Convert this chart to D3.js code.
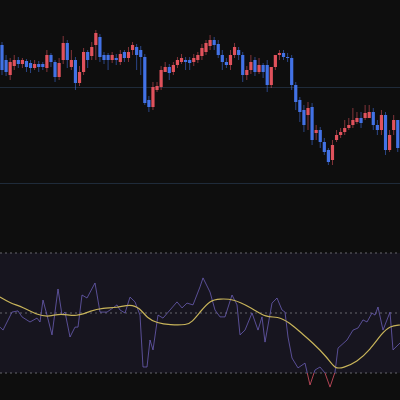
<!DOCTYPE html><html><head><meta charset="utf-8">
<script src="https://cdn.jsdelivr.net/npm/d3@7"></script>
<style>html,body{margin:0;background:#0e0e0e;}</style></head><body><svg id="c" width="400" height="400"></svg>
<script>
const opens  = [155,140,125,134,140,136,139,137,132,136,136,132,145,138,123,140,157,133,140,117,128,148,144,155,163,145,145,140,142,138,148,142,150,153,150,143,100,93,110,113,128,133,128,135,138,140,140,138,140,144,148,154,160,156,145,138,135,145,150,145,125,130,140,128,135,135,115,133,145,147,143,142,115,100,90,85,93,67,70,58,50,40,60,65,68,72,75,78,82,82,82,88,75,70,85,50,70,80];
const closes = [130,128,138,140,136,140,133,132,136,133,133,145,138,123,137,157,140,140,117,128,148,140,153,167,143,140,140,145,140,146,142,148,155,145,143,97,93,113,114,130,133,127,135,140,142,138,137,142,145,152,157,160,155,145,138,135,145,153,145,125,130,138,128,135,128,115,133,145,147,143,142,115,98,88,75,92,60,70,58,48,38,55,65,68,72,75,80,82,77,87,88,75,70,85,50,65,80,52];
const highs  = [158,145,142,145,143,142,141,140,140,139,138,150,147,140,142,164,160,150,143,134,152,150,158,170,166,148,147,148,146,150,150,153,158,156,154,146,104,118,118,134,138,136,138,143,146,143,143,146,148,156,160,165,163,160,150,142,150,157,153,148,134,145,143,142,137,140,120,140,150,150,147,145,118,103,95,98,97,75,73,62,52,60,70,72,80,82,92,88,88,95,95,92,80,90,88,70,85,72];
const lows   = [125,124,120,130,132,132,128,127,130,128,130,128,133,118,120,136,132,130,110,114,125,132,140,140,138,136,130,137,135,135,138,138,145,130,125,95,88,90,108,110,128,120,125,132,136,130,130,134,137,140,145,150,150,142,130,132,130,142,140,118,120,126,124,126,122,108,112,130,140,140,138,110,90,78,68,70,55,60,52,45,35,35,58,62,65,70,72,76,72,80,82,70,65,65,45,48,65,48];
const rsiTime = [0,3,12,18,22,30,37,40,43,47,52,58,62,65,70,75,78,82,87,95,100,107,113,117,120,125,130,135,140,143,147,150,153,158,163,170,177,182,187,193,200,203,210,215,220,225,232,237,240,245,252,258,262,265,272,277,282,285,288,292,298,305,310,315,320,325,330,335,338,347,353,358,363,367,372,375,378,383,390,393,400];
const rsiVal  = [45.3,44.3,50.3,50.7,48.7,47,48.3,47,54.3,49.3,42.7,58,49.3,50.3,42,45.3,45.3,56,55,60,50.3,50.3,51.7,52.7,51,50,55.3,53.7,49.3,32,32,41,37.7,49.3,48.3,51,53.7,51.7,53.3,52.7,58.7,61.7,57,51,48.7,48.7,56,52.7,42.7,44.3,50,44.3,48.7,40.3,53.3,55,51,50.3,42,35,31.7,33.3,26,31,32,30,25.3,30.3,38.3,41,44.3,45,47.7,47,50,49.3,52,44.3,50.3,37.7,40];
const maTime = [0,10,23,37,50,60,77,90,103,117,130,140,147,157,170,187,192,200,210,220,233,250,267,277,290,300,313,327,335,343,357,370,382,390,400];
const maVal  = [55.3,53.3,52,49.3,48.7,50,48.7,50.7,51.7,51.7,53,51.7,48.3,46.7,46,46,47,50.3,54.3,54.7,54.7,52,48.3,49,46.7,43.7,40,35.3,31.3,31.7,33.7,37.7,43.3,45.7,46];

const svg = d3.select("#c");
const W = 400;
const times = opens.map((_, i) => 2 + i * 4.08);
const x = d3.scaleLinear().domain([0, 400]).range([0, W]);
const y = d3.scaleLinear().domain([0, 200]).range([200, 0]);
const yr = d3.scaleLinear().domain([30, 70]).range([373, 253]);

svg.append("rect").attr("x",0).attr("width",W).attr("y",yr(70)).attr("height",yr(30)-yr(70)).attr("fill","#17151f");
[113, 17].forEach(p => svg.append("line").attr("x1",0).attr("x2",W).attr("y1",y(p)+0.5).attr("y2",y(p)+0.5).attr("stroke","#1f2b3a").attr("stroke-width",1));
[70,50,30].forEach(v => svg.append("line").attr("x1",0).attr("x2",W).attr("y1",yr(v)).attr("y2",yr(v)).attr("stroke","#66666c").attr("stroke-width",1).attr("stroke-dasharray","2,3"));

const up = "#e0525c", dn = "#4272e6";
const g = svg.append("g");
opens.forEach((o, i) => {
  const c = closes[i], col = c >= o ? up : dn, cx = x(times[i]);
  g.append("line").attr("x1",cx).attr("x2",cx).attr("y1",y(highs[i])).attr("y2",y(lows[i])).attr("stroke",col).attr("stroke-width",1).attr("opacity",0.55);
  g.append("rect").attr("x",cx-1.6).attr("width",3.2).attr("y",y(Math.max(o,c))).attr("height",Math.max(1,Math.abs(y(o)-y(c)))).attr("fill",col);
});

const rsiData = rsiTime.map((t,i)=>[t,rsiVal[i]]);
const line = d3.line().x(d=>x(d[0])).y(d=>yr(d[1]));
const defs = svg.append("defs");
defs.append("clipPath").attr("id","above").append("rect").attr("x",0).attr("y",0).attr("width",W).attr("height",yr(30));
defs.append("clipPath").attr("id","below").append("rect").attr("x",0).attr("y",yr(30)).attr("width",W).attr("height",400-yr(30));
svg.append("path").datum(rsiData).attr("d",line).attr("fill","none").attr("stroke","#7566c8").attr("stroke-width",1).attr("opacity",0.7).attr("clip-path","url(#above)");
svg.append("path").datum(rsiData).attr("d",line).attr("fill","none").attr("stroke","#b04454").attr("stroke-width",1).attr("clip-path","url(#below)");
const maData = maTime.map((t,i)=>[t,maVal[i]]);
svg.append("path").datum(maData).attr("d",d3.line().x(d=>x(d[0])).y(d=>yr(d[1])).curve(d3.curveBasis)).attr("fill","none").attr("stroke","#c8b45a").attr("stroke-width",1.2);
</script></body></html>
